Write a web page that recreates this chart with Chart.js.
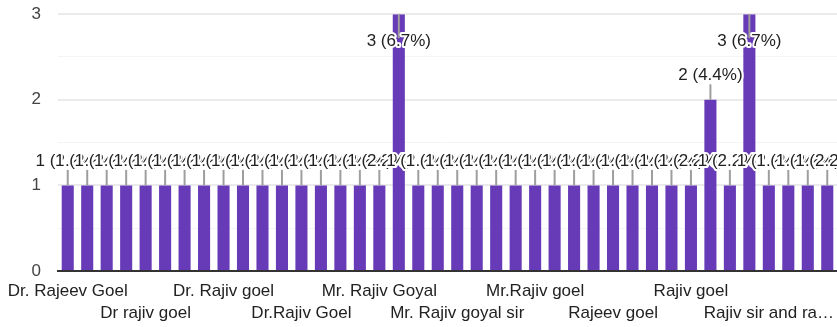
<!DOCTYPE html>
<html>
<head>
<meta charset="utf-8">
<script src="https://cdn.jsdelivr.net/npm/chart.js@4/dist/chart.umd.min.js"></script>
<style>
    body { margin: 0; background: #fff; overflow: hidden; }
    #wrap { position: relative; width: 837px; height: 340px; margin-top: -13px; }
</style>
</head>
<body>
<div id="wrap"><canvas id="answers-chart"></canvas></div>
<script>
// 응답 이름 (x축 카테고리)
const answerNames = [
    'Dr. Rajeev Goel', 'Dr. Rajiv Goel', 'Dr. Rajiv Goyal', 'Dr. Rajeev goel',
    'Dr rajiv goel', 'Dr Rajiv Goel', 'Dr. Rajiv goyal', 'Dr.Rajeev Goel',
    'Dr. Rajiv goel', 'Dr Rajeev goel', 'Dr. Rajeev goyal', 'Dr.Rajiv goel',
    'Dr.Rajiv Goel', 'Dr.Rajeev goel', 'Mr Rajiv goel', 'Mr. Rajeev Goel',
    'Mr. Rajiv Goyal', 'Mr. Rajiv Goel', 'Mr. Rajiv goel', 'Mr. Rajeev goel',
    'Mr. Rajiv goyal sir', 'Mr.Rajeev Goel', 'Mr.Rajiv Goel', 'Mr.Rajiv Goyal',
    'Mr.Rajiv goel', 'Rajeev Goel', 'Rajeev Goel sir', 'Rajeev sir',
    'Rajeev goel', 'Rajiv Goel', 'Rajiv Goyal', 'Rajiv Goel sir',
    'Rajiv goel', 'Rajiv goyal', 'Rajiv goel sir', 'Rajiv sir',
    'Rajiv sir and rajeev sir', 'Rajiv goyal sir', 'Rajiv Sir', 'Sir Rajiv goel'
];

// 응답 수
const answerCounts = [
    1, 1, 1, 1, 1, 1, 1, 1, 1, 1,
    1, 1, 1, 1, 1, 1, 1, 3, 1, 1,
    1, 1, 1, 1, 1, 1, 1, 1, 1, 1,
    1, 1, 1, 2, 1, 3, 1, 1, 1, 1
];

// y축 눈금 라벨
const yTickValues = [0, 1, 2, 3];

const totalAnswers = answerCounts.reduce((sum, v) => sum + v, 0);
const fontFamily = '"Liberation Sans", Arial, sans-serif';
const fontSize = 17;

/**
 * 막대 위 값 라벨 (지시선 + 흰 테두리 텍스트)
 */
const barLabelPlugin = {
    id: 'barLabels',
    afterDatasetsDraw(chart) {
        const ctx = chart.ctx;
        const area = chart.chartArea;
        const bars = chart.getDatasetMeta(0).data;

        const positions = bars.map(bar => {
            let labelY = bar.y - 24.5;
            let inside = false;
            if (labelY < area.top + 27) {
                labelY = area.top + 27;
                inside = true;
            }
            return { x: bar.x, top: bar.y, labelY, inside };
        });

        ctx.save();

        // 지시선 먼저
        ctx.strokeStyle = '#9e9e9e';
        ctx.lineWidth = 2;
        positions.forEach(p => {
            ctx.beginPath();
            if (p.inside) {
                ctx.moveTo(p.x, p.top);
                ctx.lineTo(p.x, p.labelY - 3);
            } else {
                ctx.moveTo(p.x, p.labelY + 9);
                ctx.lineTo(p.x, p.top);
            }
            ctx.stroke();
        });

        // 라벨 텍스트
        ctx.font = fontSize + 'px ' + fontFamily;
        ctx.textAlign = 'center';
        ctx.textBaseline = 'middle';
        ctx.lineJoin = 'round';
        positions.forEach((p, i) => {
            const value = answerCounts[i];
            const text = `${value} (${(value / totalAnswers * 100).toFixed(1)}%)`;
            ctx.strokeStyle = '#fff';
            ctx.lineWidth = 4;
            ctx.strokeText(text, p.x, p.labelY);
            ctx.fillStyle = '#222';
            ctx.fillText(text, p.x, p.labelY);
        });

        ctx.restore();
    }
};

/**
 * x축 라벨: 4개마다 하나씩, 두 줄로 번갈아 표시
 */
function formatAnswerTick(value, index) {
    if (index % 4 !== 0) return '';
    let name = answerNames[index];
    if (name.length > 19) name = name.slice(0, 16) + '…';
    return (index / 4) % 2 === 0 ? [name] : ['', name];
}

// 정수 눈금은 진한 격자선, 0.5 눈금은 옅은 격자선
const isMajorTick = context => Number.isInteger(context.tick.value);

const chartCtx = document.getElementById('answers-chart').getContext('2d');

const answersChart = new Chart(chartCtx, {
    type: 'bar',
    data: {
        labels: answerNames,
        datasets: [
            {
                data: answerCounts,
                backgroundColor: '#673ab7',
                barPercentage: 0.62,
                categoryPercentage: 1.0
            }
        ]
    },
    options: {
        responsive: true,
        maintainAspectRatio: false,
        animation: false,
        layout: {
            padding: 0
        },
        plugins: {
            legend: { display: false },
            tooltip: { enabled: false }
        },
        scales: {
            x: {
                grid: { display: false },
                border: { color: '#333', width: 2 },
                ticks: {
                    autoSkip: false,
                    maxRotation: 0,
                    minRotation: 0,
                    padding: 1,
                    color: '#222',
                    font: { family: fontFamily, size: fontSize, lineHeight: 1.3 },
                    callback: formatAnswerTick
                },
                afterFit(scale) {
                    scale.height = 56;
                }
            },
            y: {
                min: 0,
                max: 3,
                border: { display: false },
                grid: {
                    drawTicks: false,
                    color: context => isMajorTick(context) ? '#ebebeb' : '#f4f4f4',
                    lineWidth: context => isMajorTick(context) ? 2 : 1
                },
                ticks: {
                    stepSize: 0.5,
                    padding: 17,
                    color: '#444',
                    font: { family: fontFamily, size: fontSize },
                    callback: value => yTickValues.includes(value) ? value : ''
                },
                afterFit(scale) {
                    scale.width = 58;
                }
            }
        }
    },
    plugins: [barLabelPlugin]
});
</script>
</body>
</html>
